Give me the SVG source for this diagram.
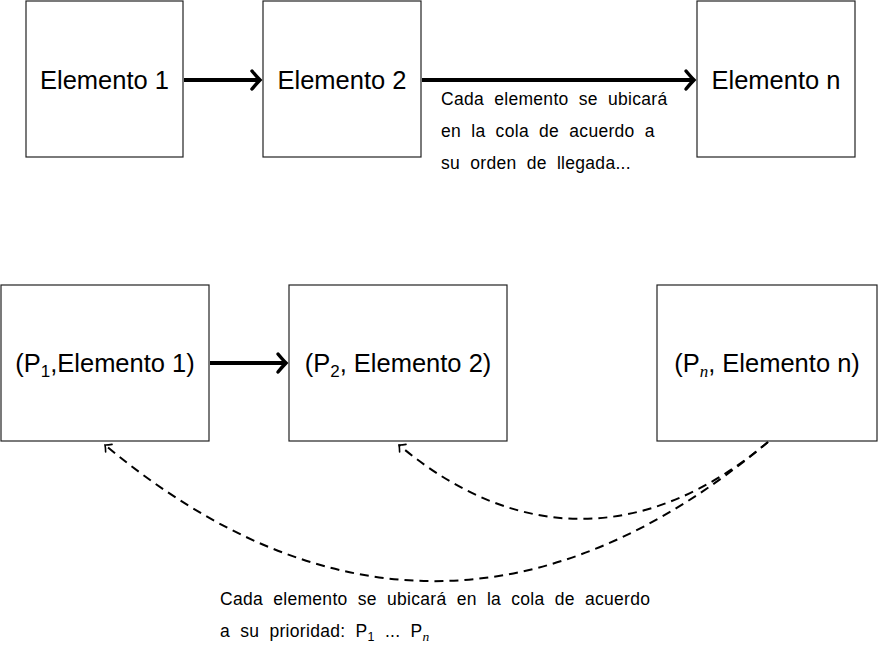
<svg xmlns="http://www.w3.org/2000/svg" width="879" height="650" viewBox="0 0 879 650">
<style>
.box{fill:#fff;stroke:#222;stroke-width:1.2}
.lbl{font-family:"Liberation Sans",Arial,sans-serif;font-size:25.5px;fill:#000;text-anchor:middle}
.sub{font-size:17px}
.mi{font-family:"Liberation Serif","Times New Roman",serif;font-style:italic}
.txt{font-family:"Liberation Sans",Arial,sans-serif;font-size:17.5px;fill:#000;letter-spacing:0.3px;word-spacing:5px}
.thick{stroke:#000;stroke-width:4;fill:none}
.dash{stroke:#000;stroke-width:2;fill:none;stroke-dasharray:9 6}
</style>
<defs>
<marker id="big" markerUnits="userSpaceOnUse" viewBox="-12 -12 16 24" refX="0" refY="0" markerWidth="16" markerHeight="24" orient="auto">
<path d="M -8 -9 Q -3 -3 0 0 Q -3 3 -8 9" fill="none" stroke="#000" stroke-width="3.5" stroke-linecap="round"/>
</marker>
<marker id="small" markerUnits="userSpaceOnUse" viewBox="-8 -8 10 16" refX="0" refY="0" markerWidth="10" markerHeight="16" orient="auto">
<path d="M -5 -5 Q -2 -1.5 0 0 Q -2 1.5 -5 5" fill="none" stroke="#000" stroke-width="1.6" stroke-linecap="round"/>
</marker>
</defs>
<g id="connectors">
<line class="thick" x1="184" y1="80" x2="260" y2="80" marker-end="url(#big)"/>
<line class="thick" x1="422" y1="80" x2="694" y2="80" marker-end="url(#big)"/>
<line class="thick" x1="210" y1="363" x2="286" y2="363" marker-end="url(#big)"/>
<path class="dash" d="M 768 442 C 648 543, 518 545, 399 445" marker-end="url(#small)"/>
<path class="dash" d="M 768 442 C 549 626, 324 628, 105 445" marker-end="url(#small)"/>
</g>
<g id="top1"><rect class="box" x="26" y="1" width="157" height="156"/><text class="lbl" x="104.5" y="89">Elemento 1</text></g>
<g id="top2"><rect class="box" x="263" y="1" width="158" height="156"/><text class="lbl" x="342" y="89">Elemento 2</text></g>
<g id="topn"><rect class="box" x="697" y="1" width="158" height="156"/><text class="lbl" x="776" y="89">Elemento n</text></g>
<g id="bot1"><rect class="box" x="1" y="285" width="208" height="156"/><text class="lbl" x="105" y="372">(P<tspan class="sub" dy="5">1</tspan><tspan dy="-5">,Elemento 1)</tspan></text></g>
<g id="bot2"><rect class="box" x="289" y="285" width="218" height="156"/><text class="lbl" x="398" y="372">(P<tspan class="sub" dy="5">2</tspan><tspan dy="-5">, Elemento 2)</tspan></text></g>
<g id="botn"><rect class="box" x="657" y="285" width="220" height="156"/><text class="lbl" x="767" y="372">(P<tspan class="sub mi" dy="5">n</tspan><tspan dy="-5">, Elemento n)</tspan></text></g>
<g id="note1">
<text class="txt" x="441" y="105">Cada elemento se ubicará</text>
<text class="txt" x="441" y="137">en la cola de acuerdo a</text>
<text class="txt" x="441" y="169">su orden de llegada...</text>
</g>
<g id="note2">
<text class="txt" x="220" y="605">Cada elemento se ubicará en la cola de acuerdo</text>
<text class="txt" x="220" y="637">a su prioridad:  P<tspan font-size="12.5" dy="4">1</tspan><tspan dy="-4"> ...  P</tspan><tspan class="mi" font-size="13.5" dy="4">n</tspan></text>
</g>
</svg>
